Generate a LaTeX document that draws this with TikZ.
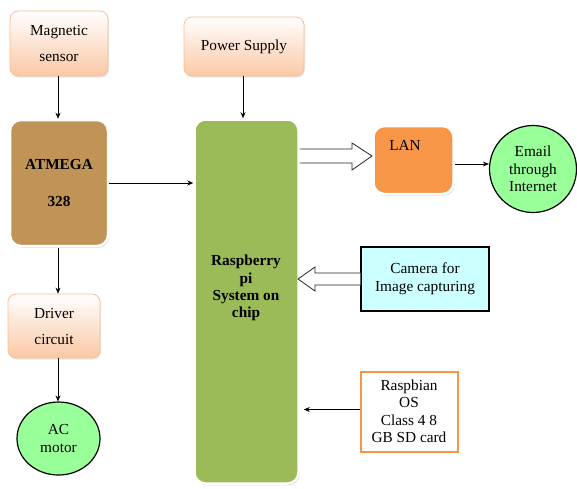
\documentclass[tikz,border=0pt]{standalone}
\usepackage{fontspec}
\setmainfont{Liberation Serif}
\usetikzlibrary{arrows.meta,shadows,calc,shapes.geometric}
\definecolor{peach}{RGB}{250,200,165}
\definecolor{peachline}{RGB}{249,190,145}
\definecolor{brownfill}{RGB}{192,147,86}
\definecolor{rpigreen}{RGB}{155,187,89}
\definecolor{lanorange}{RGB}{247,150,70}
\definecolor{lightgreen}{RGB}{153,255,153}
\definecolor{lightcyan}{RGB}{204,255,255}
\tikzset{
  txt/.style={font=\fontsize{15.3}{17.5}\selectfont, align=center},
  peachbox/.style={txt, rounded corners=8pt, top color=white, bottom color=peach, draw=peachline, line width=0.8pt, inner sep=0pt,
     drop shadow={shadow xshift=1pt, shadow yshift=-1.5pt, fill=gray!35}},
  solidbox/.style={txt, rounded corners=11pt, draw=white, line width=2.5pt, inner sep=0pt,
     drop shadow={shadow xshift=1.2pt, shadow yshift=-1.8pt, fill=gray!55}},
  roundnode/.style={txt, ellipse, fill=lightgreen, draw=black, line width=1.2pt, inner sep=0pt},
  arr/.style={-{Stealth[length=6pt,width=5pt]}, line width=0.7pt, black},
  blockarrow/.style={fill=white, draw=black!85, line width=0.8pt, line join=miter},
}
\begin{document}
\begin{tikzpicture}[x=1pt,y=-1pt]
\useasboundingbox (0,0) rectangle (577,488);

\node[peachbox, minimum width=98pt, minimum height=65pt, font=\fontsize{15.3}{26}\selectfont] (mag) at (59,43.5) {Magnetic\\sensor};
\node[solidbox, fill=brownfill, minimum width=98pt, minimum height=126pt, font=\bfseries\fontsize{15.3}{37}\selectfont] (atm) at (59,183) {ATMEGA\\328};
\node[peachbox, minimum width=120pt, minimum height=59pt] (pwr) at (244,46.5) {Power Supply};
\node[solidbox, fill=rpigreen, minimum width=104pt, minimum height=364pt] (rpi) at (246.5,301.5) {};
\node[txt, font=\bfseries\fontsize{15.3}{17.3}\selectfont] (rpitext) at (246,288) {Raspberry\\pi\\System on\\chip};
\node[solidbox, fill=lanorange, minimum width=80pt, minimum height=68pt] (lan) at (413.5,160) {};
\node[txt] (lantext) at (405,145) {LAN};
\node[roundnode, minimum width=87pt, minimum height=87pt] (email) at (533,169) {Email\\through\\Internet};
\node[txt, fill=lightcyan, draw=black, line width=1.3pt, minimum width=128pt, minimum height=64pt, inner sep=0pt] (cam) at (425,279) {Camera for\\Image capturing};
\node[txt, fill=white, draw=lanorange, line width=2pt, minimum width=97pt, minimum height=80pt, inner sep=0pt] (rasp) at (409,411.5) {Raspbian\\OS\\Class 4 8\\GB SD card};
\node[peachbox, minimum width=92pt, minimum height=64pt, font=\fontsize{15.3}{26}\selectfont] (drv) at (54,326) {Driver\\circuit};
\node[roundnode, minimum width=83pt, minimum height=73pt] (ac) at (58.5,438.5) {AC\\motor};

% plain arrows
\path (mag.south) ++(-1,0) coordinate (m1);
\draw[arr] (m1) -- (m1 |- atm.north);
\draw[arr] (atm.east) -- (atm.east -| rpi.west);
\path (pwr.south) ++(-1,0) coordinate (p1);
\draw[arr] (p1) -- (p1 |- rpi.north);
\path (atm.south) ++(-1,1) coordinate (a1);
\draw[arr] (a1) -- (a1 |- drv.north);
\path (a1 |- drv.south) coordinate (d1);
\draw[arr] (d1) -- (d1 |- ac.north);
\path (lan.east) ++(0,4) coordinate (l1);
\draw[arr] (l1) -- (l1 -| email.west);
\path (rasp.west) ++(0,-2) coordinate (r1);
\draw[arr, shorten >=4pt] (r1) -- (r1 -| rpi.east);

% block arrow rpi -> LAN
\path (rpi.east |- lan.west) ++(0,-4) coordinate (b0);
\coordinate (btip) at (372,156);
\draw[blockarrow] ($(b0)+(0,-7)$) -- (352,149) -- (352,143) -- (btip) -- (352,170) -- (352,163) -- ($(b0)+(0,7)$);

% block arrow camera -> rpi
\path (cam.west) coordinate (c0);
\coordinate (ctip) at (298,279);
\draw[blockarrow] ($(c0)+(0,-6)$) -- (315,273) -- (315,267) -- (ctip) -- (315,291) -- (315,285) -- ($(c0)+(0,6)$);
\end{tikzpicture}
\end{document}
